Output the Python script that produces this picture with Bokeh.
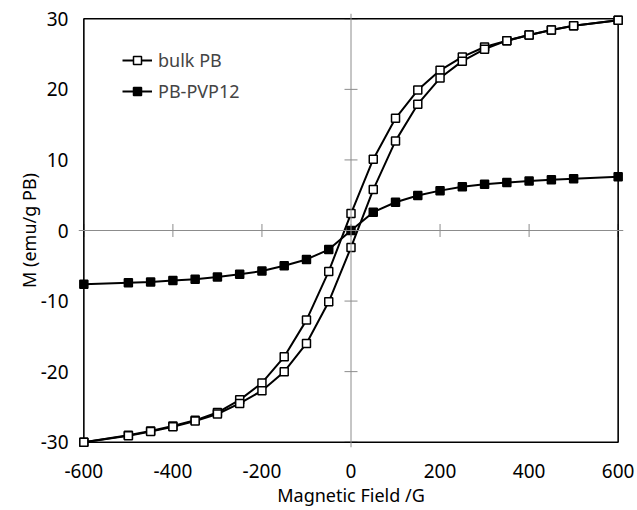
from bokeh.plotting import figure
from bokeh.models import Range1d, FixedTicker, Span, Legend, LegendItem
from bokeh.embed import file_html
from bokeh.resources import INLINE
import math

# ---- data ----
field = [-600, -500, -450, -400, -350, -300, -250, -200, -150, -100, -50, 0,
         50, 100, 150, 200, 250, 300, 350, 400, 450, 500, 600]
# bulk PB, descending-field (upper) branch
bulk_upper = [-30.0, -29.0, -28.4, -27.7, -26.9, -25.8, -24.0, -21.6, -17.9, -12.7, -5.8, 2.4,
              10.1, 15.9, 19.9, 22.7, 24.6, 26.0, 26.9, 27.7, 28.4, 29.0, 29.8]
# bulk PB, ascending-field (lower) branch
bulk_lower = [-30.0, -29.1, -28.5, -27.8, -27.0, -26.0, -24.5, -22.7, -20.0, -16.0, -10.1, -2.4,
              5.8, 12.7, 17.9, 21.6, 24.0, 25.7, 26.9, 27.7, 28.4, 29.0, 29.8]
# PB-PVP12
pvp = [-7.6, -7.4, -7.3, -7.1, -6.9, -6.6, -6.2, -5.75, -5.0, -4.1, -2.7, 0.0,
       2.6, 4.0, 4.95, 5.65, 6.2, 6.55, 6.8, 7.0, 7.2, 7.35, 7.6]

x_ticks = [-600, -400, -200, 0, 200, 400, 600]
y_ticks = [-30, -20, -10, 0, 10, 20, 30]

FONT = "Noto Sans"

xpad = 12
ypad = 0.75
p = figure(width=637, height=510, output_backend="svg", toolbar_location=None,
           x_range=Range1d(x_ticks[0] - xpad, x_ticks[-1] + xpad),
           y_range=Range1d(y_ticks[0] - ypad, y_ticks[-1] + ypad),
           min_border_left=78, min_border_right=14, min_border_top=13, min_border_bottom=63)
p.outline_line_color = None
p.xgrid.visible = False
p.ygrid.visible = False
p.background_fill_color = "white"
p.border_fill_color = "white"

for ax in (p.xaxis[0], p.yaxis[0]):
    ax.axis_line_color = None
    ax.major_tick_line_color = None
    ax.minor_tick_line_color = None
    ax.major_tick_out = 0
    ax.major_tick_in = 0
    ax.major_label_text_font = FONT
    ax.major_label_text_font_size = "19px"
    ax.major_label_text_color = "black"
    ax.axis_label_text_font = FONT
    ax.axis_label_text_font_size = "18px"
    ax.axis_label_text_font_style = "normal"
    ax.axis_label_text_color = "black"

p.xaxis.ticker = FixedTicker(ticks=x_ticks)
p.yaxis.ticker = FixedTicker(ticks=y_ticks)
p.xaxis.major_label_overrides = {t: str(t) for t in x_ticks}
p.yaxis.major_label_overrides = {t: str(t) for t in y_ticks}
p.xaxis.axis_label = "Magnetic Field /G"
p.yaxis.axis_label = "M (emu/g PB)"
p.xaxis.major_label_standoff = 16
p.yaxis.major_label_standoff = 10
p.xaxis.axis_label_standoff = 2
p.yaxis.axis_label_standoff = -3

# zero cross-hair with tick marks
p.add_layout(Span(location=0, dimension="width", line_color="#8c8c8c", line_width=1))
p.add_layout(Span(location=0, dimension="height", line_color="#8c8c8c", line_width=1))
p.dash(x=x_ticks, y=[0] * len(x_ticks), size=13, angle=math.pi / 2,
       line_color="#8c8c8c", line_width=1)
p.dash(x=[0] * len(y_ticks), y=y_ticks, size=13,
       line_color="#8c8c8c", line_width=1)

# frame box
p.quad(left=[x_ticks[0]], right=[x_ticks[-1]], bottom=[y_ticks[0]], top=[y_ticks[-1]],
       fill_color=None, line_color="black", line_width=1.6)

# series
l1 = p.line(field, bulk_upper, line_color="black", line_width=2)
l2 = p.line(field, bulk_lower, line_color="black", line_width=2)
l3 = p.line(field, pvp, line_color="black", line_width=2)
s1 = p.scatter(field, bulk_upper, marker="square", size=8, fill_color="white",
               line_color="black", line_width=1.5)
s2 = p.scatter(field, bulk_lower, marker="square", size=8, fill_color="white",
               line_color="black", line_width=1.5)
s3 = p.scatter(field, pvp, marker="square", size=8, fill_color="black",
               line_color="black", line_width=1.5)

legend = Legend(items=[LegendItem(label="bulk PB", renderers=[l1, s1]),
                       LegendItem(label="PB-PVP12", renderers=[l3, s3])],
                location=(44, 344), padding=0, margin=0, spacing=7,
                glyph_width=30, glyph_height=20, label_height=20, label_standoff=6,
                label_text_font=FONT, label_text_font_size="18px",
                border_line_color=None, background_fill_alpha=0)
p.add_layout(legend)

open("out.html", "w").write(file_html(p, INLINE))
